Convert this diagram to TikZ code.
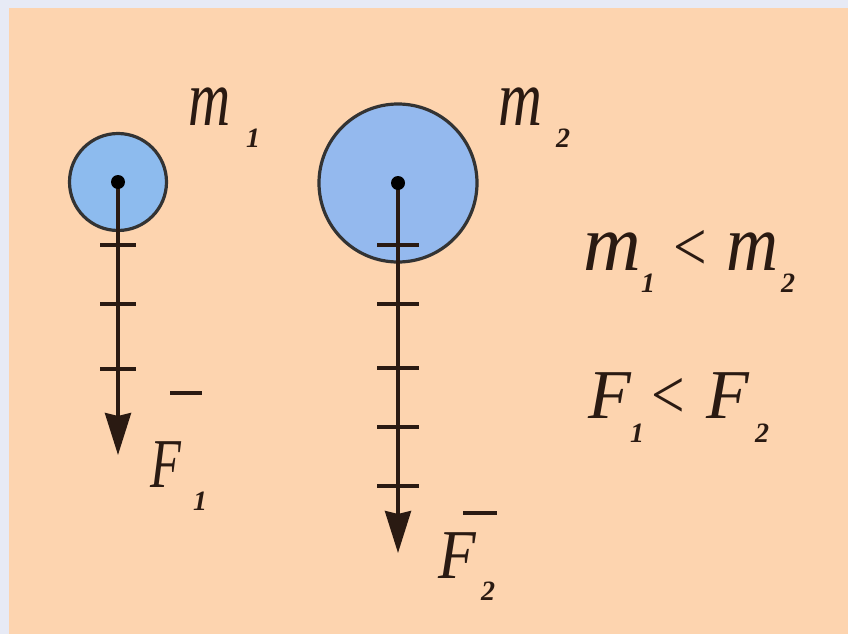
\documentclass[tikz,border=0pt]{standalone}
\usepackage{fontspec}
\setmainfont{Liberation Serif}
\usetikzlibrary{arrows.meta}
\definecolor{peach}{HTML}{FDD4AF}
\definecolor{lav}{HTML}{E7EAF5}
\definecolor{ballA}{HTML}{8DBBEE}
\definecolor{ballB}{HTML}{94B9EE}
\definecolor{ink}{HTML}{2A1A12}
\begin{document}
\begin{tikzpicture}[x=1pt,y=-1pt,
  mass/.style={circle, draw=black!80, line width=3.2pt, inner sep=0pt},
  dotc/.style={circle, fill=black, inner sep=0pt, minimum size=14pt},
  force/.style={draw=ink, line width=3.5pt, -{Stealth[length=42pt,width=26pt,inset=3pt]}},
  tickmark/.style={draw=ink, line width=3.5pt},
  vbar/.style={draw=ink, line width=3.5pt},
  bigm/.style={font=\fontsize{80}{80}\selectfont\itshape, inner sep=0pt, anchor=base west, text=ink},
  bigf/.style={font=\fontsize{70}{70}\selectfont\itshape, inner sep=0pt, anchor=base west, text=ink},
  rel/.style={font=\fontsize{70}{70}\selectfont, inner sep=0pt, anchor=base west, text=ink},
  subs/.style={font=\fontsize{28}{28}\selectfont\bfseries\itshape, inner sep=0pt, anchor=base west, text=ink}]
\fill[lav] (0,0) rectangle (848,634);
\fill[peach] (9,8) rectangle (848,634);
\useasboundingbox (0,0) rectangle (848,634);

% masses
\node[mass, fill=ballA, minimum size=97pt] (c1) at (118,182) {};
\node[mass, fill=ballB, minimum size=158pt] (c2) at (398,183) {};

% force arrows
\coordinate (t1) at (118,455);
\coordinate (t2) at (398,553);
\draw[force] (c1.center) -- (t1);
\draw[force] (c2.center) -- (t2);
\foreach \y in {245,304,369} \draw[tickmark] (100,\y) -- (136,\y);
\foreach \y in {245,304,368,427,486} \draw[tickmark] (377,\y) -- (419,\y);
\node[dotc] (d1) at (c1.center) {};
\node[dotc] (d2) at (c2.center) {};

% mass labels
\node[bigm] (m1a) at (188,125) {\scalebox{0.73}[1]{m}};
\node[subs] (m1b) at (246,147) {1};
\node[bigm] (m2a) at (498,125) {\scalebox{0.76}[1]{m}};
\node[subs] (m2b) at (556,147) {2};

% relations
\node[bigm] (e1a) at (583,270) {m};
\node[subs] (e1b) at (641,292) {1};
\node[rel] (e1c) at (673,270) {\scalebox{0.85}[1]{<}};
\node[bigm] (e1d) at (726,270) {\scalebox{0.9}[1]{m}};
\node[subs] (e1e) at (781,292) {2};

\node[bigf] (e2a) at (588,418) {F};
\node[subs] (e2b) at (630,442) {1};
\node[rel] (e2c) at (651,418) {\scalebox{0.85}[1]{<}};
\node[bigf] (e2d) at (706,418) {F};
\node[subs] (e2e) at (755,442) {2};

% force labels
\node[bigf] (f1a) at (150,487) {\scalebox{0.72}[1]{F}};
\node[subs] (f1b) at (193,510) {1};
\coordinate (b1l) at (170,393);
\coordinate (b1r) at (202,393);
\draw[vbar] (b1l) -- (b1r);
\node[bigf] (f2a) at (438,578) {\scalebox{0.88}[1]{F}};
\node[subs] (f2b) at (481,600) {2};
\coordinate (b2l) at (463,513);
\coordinate (b2r) at (497,513);
\draw[vbar] (b2l) -- (b2r);
\end{tikzpicture}
\end{document}
